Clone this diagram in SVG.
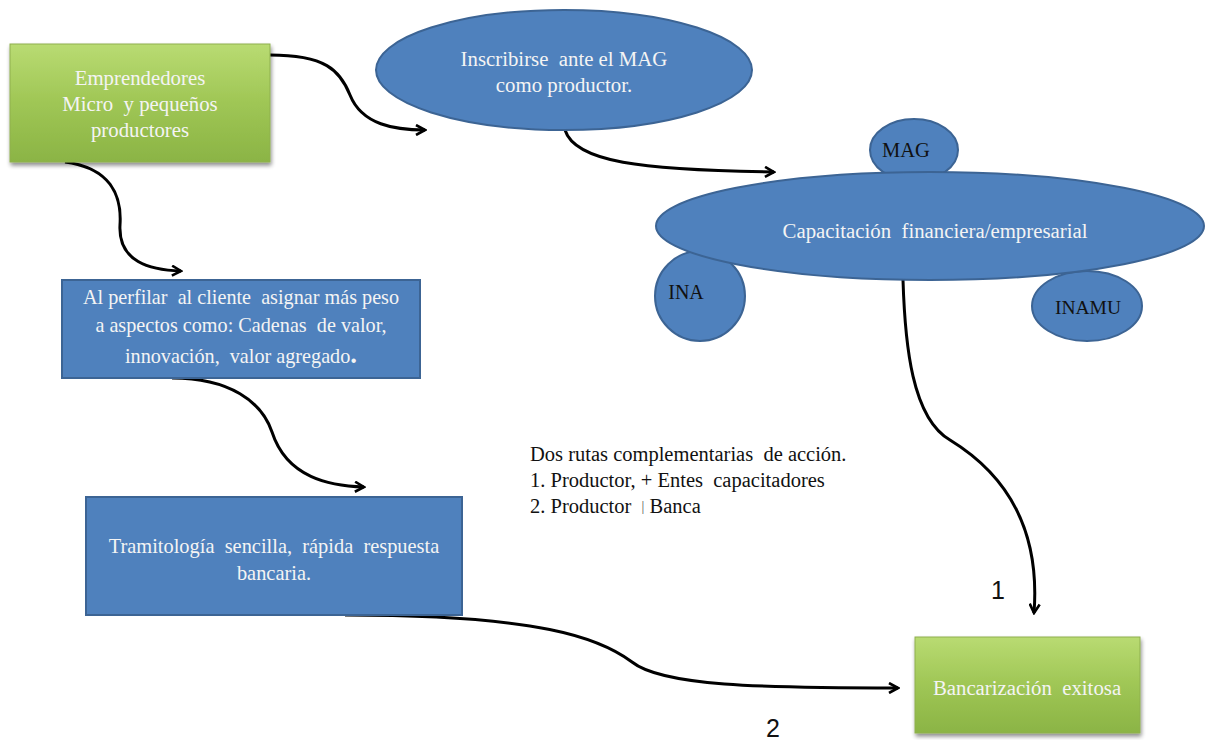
<svg xmlns="http://www.w3.org/2000/svg" width="1214" height="740" viewBox="0 0 1214 740">
<defs>
<linearGradient id="g" x1="0" y1="0" x2="0" y2="1">
<stop offset="0" stop-color="#b9db72"/>
<stop offset="0.5" stop-color="#9fc655"/>
<stop offset="1" stop-color="#8bb445"/>
</linearGradient>
<filter id="sh" x="-10%" y="-10%" width="130%" height="130%">
<feGaussianBlur in="SourceAlpha" stdDeviation="2"/>
<feOffset dx="1" dy="3"/>
<feComponentTransfer><feFuncA type="linear" slope="0.45"/></feComponentTransfer>
<feMerge><feMergeNode/><feMergeNode in="SourceGraphic"/></feMerge>
</filter>
<marker id="ah" viewBox="0 0 12 12" refX="10" refY="6" markerWidth="12" markerHeight="12" markerUnits="userSpaceOnUse" orient="auto">
<polyline points="1,1 10,6 1,11" fill="none" stroke="#000" stroke-width="2.6" stroke-linejoin="miter"/>
</marker>
</defs>
<rect width="1214" height="740" fill="#fff"/>
<g id="connectors" fill="none" stroke="#000" stroke-width="3" marker-end="url(#ah)">
<path d="M270,55 C325,55 340,70 350,95 C362,125 395,130 425,130"/>
<path d="M565,130 C575,162 640,170 774,172"/>
<path d="M65,162 C110,168 122,195 120,225 C118,262 150,270 181,271"/>
<path d="M172,378 C230,378 262,402 272,432 C287,478 330,486 364,487"/>
<path d="M345,615 C540,615 600,638 632,662 C662,686 760,688 898,688"/>
<path d="M903,280 C905,345 912,418 950,440 C1012,478 1040,535 1034,613"/>
</g>
<g id="n-emprendedores">
<rect x="10" y="44" width="260" height="118" fill="url(#g)" stroke="#8fb04f" filter="url(#sh)"/>
<text font-family="Liberation Serif" font-size="20.8" fill="#f4f4f4" text-anchor="middle" x="140" y="85">Emprendedores</text>
<text font-family="Liberation Serif" font-size="20.8" fill="#f4f4f4" text-anchor="middle" x="140" y="111" xml:space="preserve">Micro  y pequeños</text>
<text font-family="Liberation Serif" font-size="20.8" fill="#f4f4f4" text-anchor="middle" x="140" y="137">productores</text>
</g>
<g id="n-inscribirse">
<ellipse cx="564" cy="70" rx="188" ry="60" fill="#4f81bd" stroke="#3c6494" stroke-width="2"/>
<text font-family="Liberation Serif" font-size="20.8" fill="#f4f4f4" text-anchor="middle" x="564" y="66" xml:space="preserve">Inscribirse  ante el MAG</text>
<text font-family="Liberation Serif" font-size="20.8" fill="#f4f4f4" text-anchor="middle" x="564" y="92">como productor.</text>
</g>
<g id="n-mag">
<ellipse cx="914" cy="150" rx="44" ry="31" fill="#4f81bd" stroke="#3c6494" stroke-width="2"/>
<text font-family="Liberation Serif" font-size="20.5" fill="#111" text-anchor="middle" x="906" y="157">MAG</text>
</g>
<g id="n-ina">
<ellipse cx="700" cy="296" rx="45" ry="45" fill="#4f81bd" stroke="#3c6494" stroke-width="2"/>
<text font-family="Liberation Serif" font-size="20" fill="#111" text-anchor="middle" x="686" y="299">INA</text>
</g>
<g id="n-inamu">
<ellipse cx="1087" cy="306" rx="55" ry="35" fill="#4f81bd" stroke="#3c6494" stroke-width="2"/>
<text font-family="Liberation Serif" font-size="19.5" fill="#111" text-anchor="middle" x="1088" y="314">INAMU</text>
</g>
<g id="n-capacitacion">
<ellipse cx="930" cy="226" rx="274" ry="54" fill="#4f81bd" stroke="#3c6494" stroke-width="2"/>
<text font-family="Liberation Serif" font-size="20.8" fill="#f4f4f4" text-anchor="middle" x="935" y="238" xml:space="preserve">Capacitación  financiera/empresarial</text>
</g>
<g id="n-perfilar">
<rect x="62" y="280" width="358" height="98" fill="#4f81bd" stroke="#3c6494" stroke-width="2"/>
<text font-family="Liberation Serif" font-size="20.2" fill="#f4f4f4" text-anchor="middle" x="241" y="304" xml:space="preserve">Al perfilar  al cliente  asignar más peso</text>
<text font-family="Liberation Serif" font-size="20.2" fill="#f4f4f4" text-anchor="middle" x="241" y="332" xml:space="preserve">a aspectos como: Cadenas  de valor,</text>
<text font-family="Liberation Serif" font-size="20.2" fill="#f4f4f4" text-anchor="middle" x="241" y="363" xml:space="preserve">innovación,  valor agregado<tspan font-size="27" font-weight="bold">.</tspan></text>
</g>
<g id="n-tramitologia">
<rect x="86" y="497" width="376" height="118" fill="#4f81bd" stroke="#3c6494" stroke-width="2"/>
<text font-family="Liberation Serif" font-size="20.4" fill="#f4f4f4" text-anchor="middle" x="274" y="553" xml:space="preserve">Tramitología  sencilla,  rápida  respuesta</text>
<text font-family="Liberation Serif" font-size="20.4" fill="#f4f4f4" text-anchor="middle" x="274" y="580">bancaria.</text>
</g>
<g id="n-bancarizacion">
<rect x="915" y="637" width="225" height="96" fill="url(#g)" stroke="#8fb04f" filter="url(#sh)"/>
<text font-family="Liberation Serif" font-size="20.8" fill="#f4f4f4" text-anchor="middle" x="1027" y="695" xml:space="preserve">Bancarización  exitosa</text>
</g>
<g id="labels">
<text font-family="Liberation Serif" font-size="20.5" fill="#111" x="530" y="461" xml:space="preserve">Dos rutas complementarias  de acción.</text>
<text font-family="Liberation Serif" font-size="20.5" fill="#111" x="530" y="487" xml:space="preserve">1. Productor, + Entes  capacitadores</text>
<text font-family="Liberation Serif" font-size="20.5" fill="#111" x="530" y="513" xml:space="preserve">2. Productor  <tspan font-size="14" dy="-2" fill="#555">|</tspan><tspan dy="2"> Banca</tspan></text>
<text font-family="Liberation Sans" font-size="25" fill="#111" x="991" y="599">1</text>
<text font-family="Liberation Sans" font-size="25" fill="#111" x="766" y="737">2</text>
</g>
</svg>
